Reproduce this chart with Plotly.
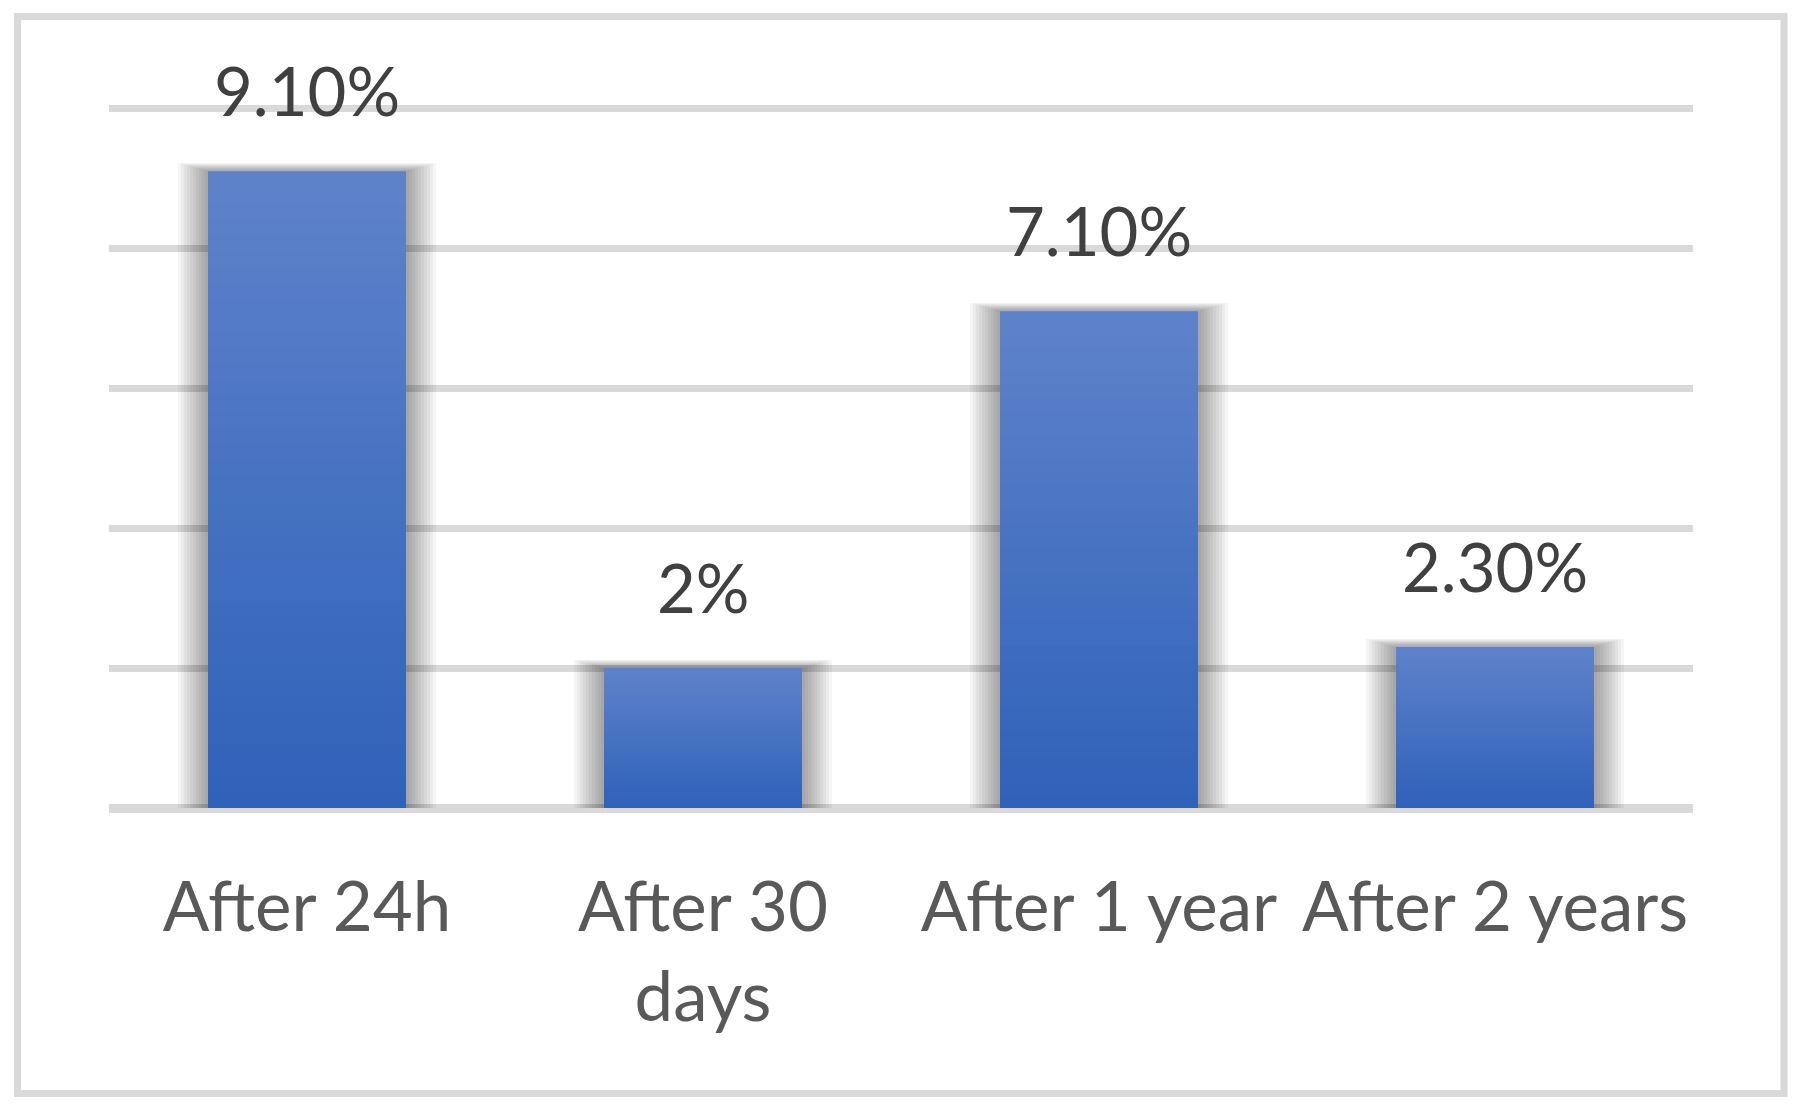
import plotly.graph_objects as go

# ---- data ----
categories = ["After 24h", "After 30 days", "After 1 year", "After 2 years"]
tick_labels = ["After 24h", "After 30<br>days", "After 1 year", "After 2 years"]
values = [9.1, 2.0, 7.1, 2.3]
value_labels = ["9.10%", "2%", "7.10%", "2.30%"]
y_ticks = [0, 2, 4, 6, 8, 10]

# ---- style ----
TOP = (94, 130, 202)
BOT = (47, 98, 185)
BAR_W = 0.5
FONT = "Lato, Open Sans, sans-serif"

fig = go.Figure()

# soft shadow behind the bars
N_SH = 10
for k in range(N_SH, 0, -1):
    fig.add_trace(go.Bar(
        x=categories,
        y=[v + 0.012 * k for v in values],
        width=BAR_W + 0.0152 * k,
        marker=dict(color="rgba(0,0,0,0.04)", line=dict(width=0)),
        hoverinfo="skip", showlegend=False,
    ))

# vertical gradient: overlapping bars, each shorter one drawn on top
N = 40
for k in range(N):
    frac = (N - k) / N
    t = k / (N - 1)
    c = tuple(round(TOP[i] + (BOT[i] - TOP[i]) * t) for i in range(3))
    fig.add_trace(go.Bar(
        x=categories,
        y=[v * frac for v in values],
        width=BAR_W,
        marker=dict(color="rgb(%d,%d,%d)" % c, line=dict(width=0)),
        hoverinfo="skip", showlegend=False,
    ))

for cat, v, lab in zip(categories, values, value_labels):
    fig.add_annotation(
        x=cat, y=v, text=lab, showarrow=False,
        xanchor="center", yanchor="bottom", yshift=39,
        font=dict(family=FONT, size=67, color="#404040"),
    )

# page offset (body margin) and plot area in page pixels
OFF = 8.0
W, H = 1584.0, 701.0
L, T = 109.0, 107.0
fig.add_shape(
    type="rect", xref="paper", yref="paper",
    x0=(17.5 - L) / W, x1=(1784 - L) / W,
    y0=(T + H - 1093.5) / H, y1=(T + H - 16.5) / H,
    line=dict(color="#d9d9d9", width=7), layer="below",
)

fig.update_layout(
    width=1797, height=1103,
    margin=dict(l=L - OFF, r=1797 - (L - OFF) - W, t=T - OFF,
                b=1103 - (T - OFF) - H, autoexpand=False),
    barmode="overlay",
    paper_bgcolor="white", plot_bgcolor="white",
    showlegend=False,
    xaxis=dict(
        tickmode="array", tickvals=categories, ticktext=tick_labels,
        tickfont=dict(family=FONT, size=69, color="#595959"),
        showgrid=False, showline=False, zeroline=False,
        ticks="", ticklabelstandoff=53,
    ),
    yaxis=dict(
        range=[0, 10.02], tickvals=y_ticks, showticklabels=False,
        showgrid=True, gridcolor="#d9d9d9", gridwidth=7,
        zeroline=True, zerolinecolor="#d9d9d9", zerolinewidth=9,
        showline=False, ticks="",
    ),
)

fig.write_html("out.html")
